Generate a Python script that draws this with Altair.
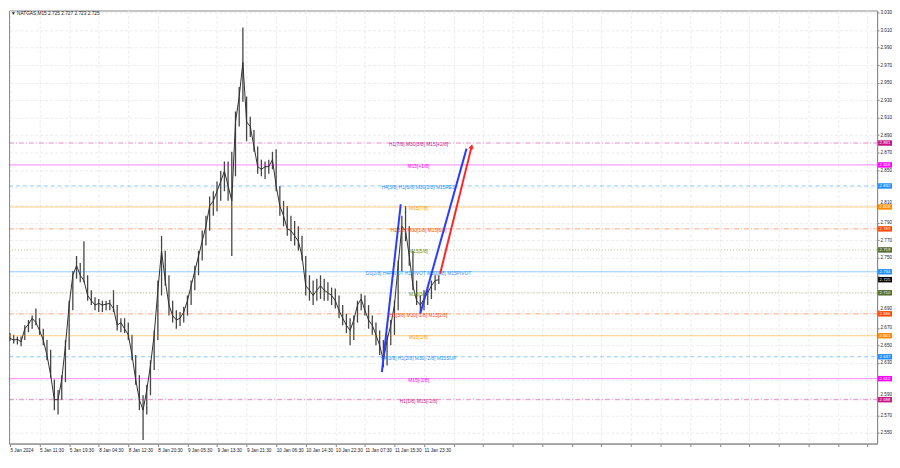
import altair as alt
import pandas as pd

# ---------------- data (hourly aggregated bars) ----------------
bar_high = [2.664, 2.662, 2.660, 2.660, 2.673, 2.679, 2.684, 2.692, 2.681, 2.669,
            2.656, 2.645, 2.611, 2.599, 2.616, 2.656, 2.701, 2.735, 2.752, 2.744,
            2.769, 2.730, 2.713, 2.705, 2.703, 2.701, 2.701, 2.702, 2.713, 2.696,
            2.681, 2.681, 2.676, 2.662, 2.639, 2.616, 2.593, 2.605, 2.633, 2.667,
            2.724, 2.775, 2.758, 2.730, 2.701, 2.690, 2.688, 2.694, 2.707, 2.724,
            2.741, 2.758, 2.781, 2.798, 2.820, 2.826, 2.837, 2.849, 2.860, 2.860,
            2.871, 2.917, 2.945, 3.013, 2.934, 2.911, 2.896, 2.877, 2.862, 2.860,
            2.862, 2.871, 2.874, 2.832, 2.815, 2.809, 2.798, 2.792, 2.786, 2.775,
            2.752, 2.730, 2.724, 2.726, 2.730, 2.726, 2.722, 2.716, 2.715, 2.707,
            2.696, 2.686, 2.681, 2.684, 2.701, 2.709, 2.707, 2.696, 2.684, 2.676,
            2.667, 2.656, 2.662, 2.679, 2.701, 2.747, 2.798, 2.809, 2.786, 2.758,
            2.724, 2.707, 2.713, 2.718, 2.724, 2.730, 2.730]
bar_low = [2.655, 2.652, 2.651, 2.649, 2.656, 2.665, 2.669, 2.673, 2.662, 2.650,
           2.633, 2.613, 2.576, 2.571, 2.588, 2.608, 2.645, 2.690, 2.726, 2.722,
           2.722, 2.701, 2.696, 2.690, 2.688, 2.688, 2.690, 2.690, 2.688, 2.667,
           2.665, 2.664, 2.656, 2.633, 2.605, 2.576, 2.542, 2.571, 2.593, 2.622,
           2.656, 2.707, 2.718, 2.684, 2.676, 2.669, 2.672, 2.676, 2.684, 2.696,
           2.713, 2.730, 2.747, 2.764, 2.781, 2.798, 2.803, 2.815, 2.826, 2.815,
           2.752, 2.843, 2.900, 2.928, 2.883, 2.888, 2.871, 2.846, 2.843, 2.840,
           2.846, 2.851, 2.826, 2.798, 2.786, 2.775, 2.769, 2.764, 2.758, 2.747,
           2.707, 2.701, 2.696, 2.701, 2.703, 2.701, 2.701, 2.696, 2.692, 2.681,
           2.673, 2.664, 2.650, 2.656, 2.676, 2.690, 2.684, 2.669, 2.662, 2.650,
           2.639, 2.625, 2.627, 2.650, 2.662, 2.690, 2.735, 2.769, 2.741, 2.713,
           2.696, 2.686, 2.690, 2.696, 2.703, 2.713, 2.720]
bar_close = [2.658, 2.656, 2.657, 2.654, 2.669, 2.674, 2.681, 2.676, 2.667, 2.656,
             2.639, 2.616, 2.588, 2.588, 2.611, 2.650, 2.696, 2.730, 2.741, 2.730,
             2.724, 2.707, 2.701, 2.696, 2.698, 2.696, 2.697, 2.698, 2.692, 2.673,
             2.676, 2.669, 2.662, 2.639, 2.611, 2.588, 2.576, 2.599, 2.627, 2.662,
             2.713, 2.758, 2.724, 2.696, 2.684, 2.679, 2.681, 2.688, 2.701, 2.718,
             2.735, 2.752, 2.769, 2.786, 2.809, 2.815, 2.826, 2.837, 2.849, 2.832,
             2.815, 2.905, 2.934, 2.973, 2.905, 2.900, 2.877, 2.854, 2.851, 2.854,
             2.854, 2.862, 2.832, 2.809, 2.798, 2.783, 2.781, 2.775, 2.769, 2.752,
             2.718, 2.713, 2.707, 2.713, 2.718, 2.713, 2.710, 2.707, 2.701, 2.690,
             2.681, 2.673, 2.667, 2.679, 2.696, 2.703, 2.690, 2.679, 2.673, 2.662,
             2.650, 2.633, 2.656, 2.673, 2.696, 2.741, 2.786, 2.781, 2.752, 2.718,
             2.701, 2.696, 2.703, 2.710, 2.718, 2.724, 2.725]

time_labels = ["5 Jan 2024", "5 Jan 11:30", "5 Jan 19:30", "8 Jan 04:30", "8 Jan 12:30",
               "8 Jan 20:30", "9 Jan 05:30", "9 Jan 13:30", "9 Jan 21:30", "10 Jan 06:30",
               "10 Jan 14:30", "10 Jan 22:30", "11 Jan 07:30", "11 Jan 15:30", "11 Jan 23:30"]

price_ticks = [round(2.53 + 0.02 * k, 3) for k in range(26)]
hidden_price_labels = ["2.830", "2.730", "2.710", "2.610"]

level_prices = [2.881, 2.856, 2.832, 2.808, 2.783, 2.759, 2.734, 2.710, 2.686, 2.661, 2.637, 2.612, 2.588]
level_names = ["H1[7/8] M30[3/8] M15[+2/8]", "M15[+1/8]", "H4[5/8] H1[6/8] M30[2/8] M15RES",
               "M15[7/8]", "H1[5/8] M30[1/8] M15[6/8]", "M15[5/8]",
               "D1[2/8] H4PIVOT H1PIVOT M30[0/8] M15PIVOT", "M15[3/8]",
               "H1[3/8] M30[-1/8] M15[2/8]", "M15[1/8]", "H4[3/8] H1[2/8] M30[-2/8] M15SUP",
               "M15[-1/8]", "H1[1/8] M15[-2/8]"]
level_colors = ["#c71585", "#ff00ff", "#1e90ff", "#ff9900", "#ff4500", "#6b8e23", "#1e90ff",
                "#6b8e23", "#ff4500", "#ff9900", "#1e90ff", "#ff00ff", "#c71585"]
level_styles = ["dashdot", "solid", "dash", "solid", "dashdot", "dot", "solid",
                "dot", "dashdot", "solid", "dash", "solid", "dashdot"]

tag_prices = level_prices + [2.725]
tag_colors = ["#c71585", "#ff00ff", "#1e90ff", "#ff8c00", "#ff4500", "#556b2f", "#1e90ff",
              "#556b2f", "#ff4500", "#ff8c00", "#1e90ff", "#ff00ff", "#c71585", "#000000"]

blue_a_bar, blue_a_price = [100.6, 105.7], [2.6195, 2.8111]
blue_b_bar, blue_b_price = [111.0, 123.5], [2.6864, 2.8746]
red_bar, red_price = [116.35, 124.87], [2.7318, 2.8769]

title_text = "\u25bc NATGAS,M15  2.725 2.727 2.723 2.725"

# ---------------- layout ----------------
W, H = 874, 436
X_DOM = [-0.27, 234.56]
Y_DOM = [2.5379, 3.0323]
FONT = "Liberation Sans"

xs = alt.Scale(domain=X_DOM, nice=False, zero=False)
ys = alt.Scale(domain=Y_DOM, nice=False, zero=False)

bars = pd.DataFrame({"bar": list(range(len(bar_close))), "high": bar_high,
                     "low": bar_low, "close": bar_close})

label_js = "[" + ",".join("'%s'" % s for s in time_labels) + "]"
hidden_js = "[" + ",".join("'%s'" % s for s in hidden_price_labels) + "]"
x_axis = alt.Axis(values=[8 * k for k in range(30)],
                  labelExpr=label_js + "[datum.value / 8] || ''",
                  labelAlign="left", labelBaseline="top", labelFontSize=4.7, labelFont=FONT,
                  labelColor="#222", labelPadding=1, labelOverlap=False, labelFlush=False,
                  tickSize=3, tickColor="#888", grid=True, gridColor="#ececec",
                  gridDash=[3, 2], domainColor="#8a8a8a", title=None)
y_axis = alt.Axis(orient="right", values=price_ticks,
                  format=".3f",
                  labelExpr="indexof(" + hidden_js + ", datum.label) >= 0 ? '' : datum.label",
                  labelFontSize=4.6, labelFont=FONT, labelColor="#222",
                  labelPadding=1, labelOverlap=False, labelFlush=False, labelBaseline="middle",
                  labelOffset={"condition": [
                      {"test": "abs(datum.value - 2.81) < 0.001 || abs(datum.value - 2.59) < 0.001",
                       "value": -3.2},
                      {"test": "abs(datum.value - 2.69) < 0.001", "value": -1.6}],
                      "value": 0},
                  tickSize=2, tickColor="#888", grid=True, gridColor="#ececec",
                  gridDash=[3, 2], domainColor="#8a8a8a", title=None)


def X(field):
    return alt.X(field, scale=xs, axis=x_axis)


def Y(field):
    return alt.Y(field, scale=ys, axis=y_axis)


candles = alt.Chart(bars).mark_rule(color="#454545", strokeWidth=1.3).encode(
    x=X("bar:Q"), y=Y("low:Q"), y2="high:Q",
)
close_line = alt.Chart(bars).mark_line(color="#303030", strokeWidth=1.0).encode(
    x=X("bar:Q"), y=Y("close:Q"),
)

levels = pd.DataFrame({"price": level_prices, "name": level_names,
                       "color": level_colors, "style": level_styles})
dash_scale = alt.Scale(domain=["solid", "dash", "dashdot", "dot"],
                       range=[[1, 0], [4, 3], [5, 2, 1, 2], [1, 2]])
level_rules = alt.Chart(levels).mark_rule(strokeWidth=0.9, opacity=0.55).encode(
    x=alt.value(0), x2=alt.value(W),
    y=Y("price:Q"),
    color=alt.Color("color:N", scale=None),
    strokeDash=alt.StrokeDash("style:N", scale=dash_scale, legend=None),
)
level_text = alt.Chart(levels).mark_text(fontSize=4.9, font=FONT, baseline="middle",
                                         align="center", dy=2).encode(
    x=alt.XDatum(110.5, scale=xs, axis=x_axis),
    y=Y("price:Q"),
    text="name:N",
    color=alt.Color("color:N", scale=None),
)

tags = pd.DataFrame({"price": tag_prices, "color": tag_colors})
tag_rect = alt.Chart(tags).transform_calculate(
    top="datum.price + 0.0031", bot="datum.price - 0.0031"
).mark_rect().encode(
    x=alt.value(W + 1), x2=alt.value(W + 15),
    y=Y("top:Q"), y2="bot:Q",
    color=alt.Color("color:N", scale=None),
)
tag_text = alt.Chart(tags).mark_text(fontSize=4.3, font=FONT, align="left",
                                     baseline="middle", color="white").encode(
    x=alt.value(W + 2.5),
    y=Y("price:Q"),
    text=alt.Text("price:Q", format=".3f"),
)

trend = pd.DataFrame({
    "bar": blue_a_bar + blue_b_bar + red_bar,
    "price": blue_a_price + blue_b_price + red_price,
    "line": ["a", "a", "b", "b", "r", "r"],
    "color": ["#2a3cff"] * 4 + ["#ff2626"] * 2,
})
trend_lines = alt.Chart(trend).mark_line(strokeWidth=2).encode(
    x=X("bar:Q"), y=Y("price:Q"),
    detail="line:N",
    color=alt.Color("color:N", scale=None),
)
arrow = alt.Chart(pd.DataFrame({"bar": [red_bar[-1]], "price": [red_price[-1]]})).mark_point(
    shape="triangle-up", filled=True, size=30, angle=14, color="#ff2626", opacity=1
).encode(x=X("bar:Q"), y=Y("price:Q"))

title = alt.Chart(pd.DataFrame({"t": [title_text]})).mark_text(
    fontSize=4.8, font=FONT, align="left", baseline="top", color="#222"
).encode(x=alt.value(2), y=alt.value(1), text="t:N")

chart = alt.layer(
    candles, level_rules, close_line, level_text, trend_lines, arrow,
    tag_rect, tag_text, title
).properties(
    width=W, height=H, padding=0, background="white"
).configure_view(stroke="#8a8a8a", strokeWidth=1)

chart.save("out.html", embed_options={"renderer": "svg", "actions": False})
